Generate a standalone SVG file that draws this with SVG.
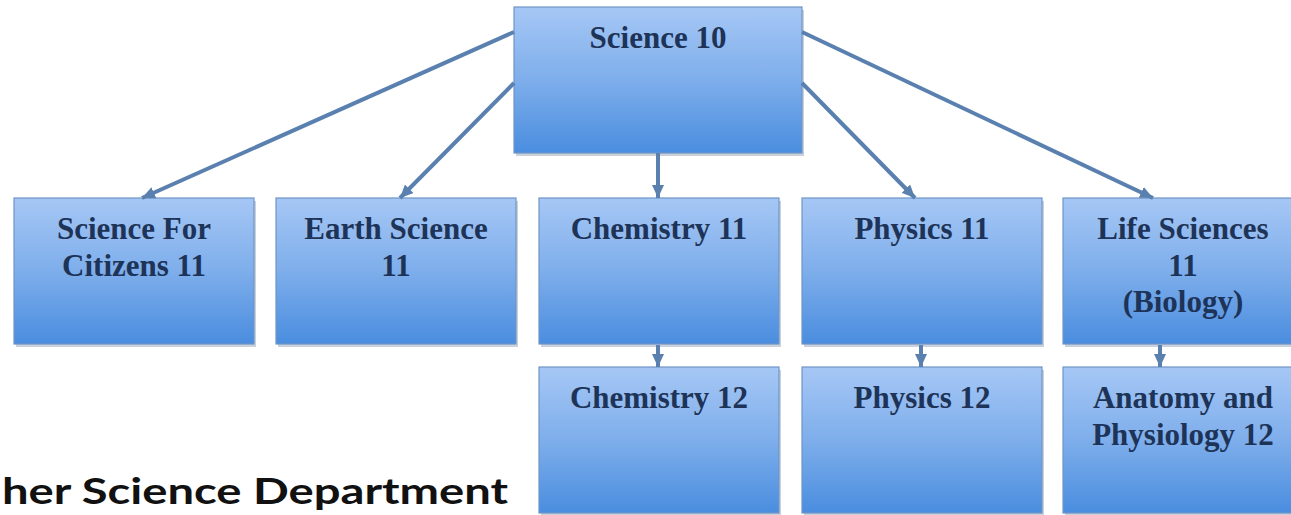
<svg xmlns="http://www.w3.org/2000/svg" width="1291" height="515" viewBox="0 0 1291 515">
<style>
.box{fill:url(#g);stroke:#6f95c6;stroke-width:1.2}
.sh{fill:#8a9ab0;opacity:0.45}
.t{font-family:"Liberation Serif","Times New Roman",serif;font-weight:bold;font-size:31px;fill:#1d3357;text-anchor:middle}
.c{fill:none;stroke:#5a80b0;stroke-width:4;marker-end:url(#ah)}
.title{font-family:Lato,"Open Sans",sans-serif;font-weight:bold;font-size:37px;fill:#111}
</style>
<defs>
<linearGradient id="g" x1="0" y1="0" x2="0" y2="1">
<stop offset="0" stop-color="#a6c7f5"/>
<stop offset="0.5" stop-color="#7eaeeb"/>
<stop offset="1" stop-color="#4a8ddf"/>
</linearGradient>
<marker id="ah" markerUnits="userSpaceOnUse" markerWidth="14" markerHeight="12" refX="13" refY="6" orient="auto">
<path d="M0,0 L13,6 L0,12 z" fill="#5a80b0"/>
</marker>
</defs>

<g id="science10">
<rect class="sh" x="516" y="10" width="288" height="146"/>
<rect class="box" x="514" y="7" width="288" height="146"/>
<text class="t" x="658" y="48">Science 10</text>
</g>

<g id="sciCitizens11">
<rect class="sh" x="16" y="201" width="240" height="146"/>
<rect class="box" x="14" y="198" width="240" height="146"/>
<text class="t" x="134" y="239">Science For</text>
<text class="t" x="134" y="276">Citizens 11</text>
</g>

<g id="earth11">
<rect class="sh" x="278" y="201" width="240" height="146"/>
<rect class="box" x="276" y="198" width="240" height="146"/>
<text class="t" x="396" y="239">Earth Science</text>
<text class="t" x="396" y="276">11</text>
</g>

<g id="chem11">
<rect class="sh" x="541" y="201" width="240" height="146"/>
<rect class="box" x="539" y="198" width="240" height="146"/>
<text class="t" x="659" y="239">Chemistry 11</text>
</g>

<g id="phys11">
<rect class="sh" x="804" y="201" width="240" height="146"/>
<rect class="box" x="802" y="198" width="240" height="146"/>
<text class="t" x="922" y="239">Physics 11</text>
</g>

<g id="life11">
<rect class="sh" x="1065" y="201" width="240" height="146"/>
<rect class="box" x="1063" y="198" width="240" height="146"/>
<text class="t" x="1183" y="239">Life Sciences</text>
<text class="t" x="1183" y="276">11</text>
<text class="t" x="1183" y="312">(Biology)</text>
</g>

<g id="chem12">
<rect class="sh" x="541" y="370" width="240" height="146"/>
<rect class="box" x="539" y="367" width="240" height="146"/>
<text class="t" x="659" y="408">Chemistry 12</text>
</g>

<g id="phys12">
<rect class="sh" x="804" y="370" width="240" height="146"/>
<rect class="box" x="802" y="367" width="240" height="146"/>
<text class="t" x="922" y="408">Physics 12</text>
</g>

<g id="anat12">
<rect class="sh" x="1065" y="370" width="240" height="146"/>
<rect class="box" x="1063" y="367" width="240" height="146"/>
<text class="t" x="1183" y="408">Anatomy and</text>
<text class="t" x="1183" y="445">Physiology 12</text>
</g>

<g id="connectors">
<path class="c" d="M514,32 L142,198"/>
<path class="c" d="M514,83 L400,198"/>
<path class="c" d="M658,153 L658,198"/>
<path class="c" d="M802,83 L915,198"/>
<path class="c" d="M802,32 L1153,198"/>
<path class="c" d="M658,345 L658,367"/>
<path class="c" d="M921,345 L921,367"/>
<path class="c" d="M1160,345 L1160,367"/>
</g>

<g id="title">
<text class="title" x="2" y="504" textLength="506" lengthAdjust="spacingAndGlyphs">her Science Department</text>
</g>
</svg>
